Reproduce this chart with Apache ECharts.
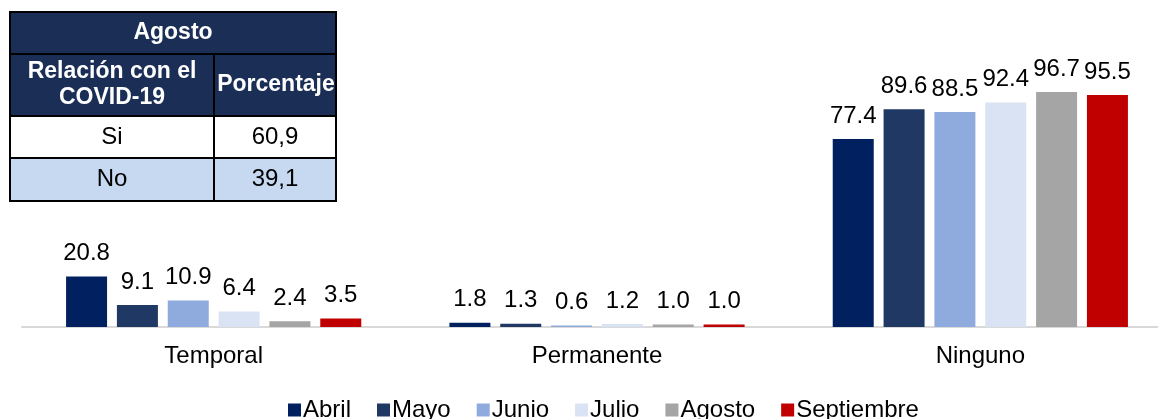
<!DOCTYPE html>
<html><head><meta charset="utf-8">
<script src="https://cdn.jsdelivr.net/npm/echarts@6/dist/echarts.min.js"></script>
<style>html,body{margin:0;padding:0;background:#fff;overflow:hidden}#c{width:1172px;height:419px}</style>
</head><body><div id="c"></div>
<script>
const categories = ['Temporal', 'Permanente', 'Ninguno'];
const seriesNames = ['Abril', 'Mayo', 'Junio', 'Julio', 'Agosto', 'Septiembre'];
const abril = [20.8, 1.8, 77.4];
const mayo = [9.1, 1.3, 89.6];
const junio = [10.9, 0.6, 88.5];
const julio = [6.4, 1.2, 92.4];
const agosto = [2.4, 1.0, 96.7];
const septiembre = [3.5, 1.0, 95.5];
const colors = ['#002060', '#203864', '#8FAADC', '#DAE3F3', '#A5A5A5', '#C00000'];
const tableTitle = 'Agosto';
const tableHeader = ['Relación con el\nCOVID-19', 'Porcentaje'];
const tableRows = [['Si', '60,9'], ['No', '39,1']];

const values = [abril, mayo, junio, julio, agosto, septiembre];
const FONT = 'Liberation Sans, Arial, sans-serif';

// table graphic
const tx = 10, tw = 326, cx = 214, ty = 12;
const rowH = [42, 62, 42, 43];
const navy = '#1B2F56';
const g = [];
let y = ty;
g.push({type:'rect', shape:{x:tx, y:y, width:tw, height:rowH[0]}, style:{fill:navy, stroke:'#000', lineWidth:2}});
g.push({type:'text', x:tx+tw/2, y:y+rowH[0]/2, style:{text:tableTitle, fill:'#fff', font:'bold 23px '+FONT, textAlign:'center', textVerticalAlign:'middle'}});
y += rowH[0];
g.push({type:'rect', shape:{x:tx, y:y, width:cx-tx, height:rowH[1]}, style:{fill:navy, stroke:'#000', lineWidth:2}});
g.push({type:'rect', shape:{x:cx, y:y, width:tx+tw-cx, height:rowH[1]}, style:{fill:navy, stroke:'#000', lineWidth:2}});
g.push({type:'text', x:(tx+cx)/2, y:y+rowH[1]/2, style:{text:tableHeader[0], fill:'#fff', font:'bold 23px '+FONT, textAlign:'center', textVerticalAlign:'middle', lineHeight:26}});
g.push({type:'text', x:(cx+tx+tw)/2 + 1, y:y+rowH[1]/2, style:{text:tableHeader[1], fill:'#fff', font:'bold 23px '+FONT, textAlign:'center', textVerticalAlign:'middle'}});
y += rowH[1];
tableRows.forEach((r, i) => {
  const h = rowH[2+i];
  const fill = i === 0 ? '#FFFFFF' : '#C6D9F1';
  g.push({type:'rect', shape:{x:tx, y:y, width:cx-tx, height:h}, style:{fill:fill, stroke:'#000', lineWidth:2}});
  g.push({type:'rect', shape:{x:cx, y:y, width:tx+tw-cx, height:h}, style:{fill:fill, stroke:'#000', lineWidth:2}});
  g.push({type:'text', x:(tx+cx)/2, y:y+h/2, style:{text:r[0], fill:'#000', font:'24px '+FONT, textAlign:'center', textVerticalAlign:'middle'}});
  g.push({type:'text', x:(cx+tx+tw)/2, y:y+h/2, style:{text:r[1], fill:'#000', font:'24px '+FONT, textAlign:'center', textVerticalAlign:'middle'}});
  y += h;
});

const chart = echarts.init(document.getElementById('c'));
chart.setOption({
  animation: false,
  textStyle: {fontFamily: FONT},
  color: colors,
  grid: {left: 22, right: 0, top: 84, bottom: 92},
  legend: {
    top: 393, left: 283, itemWidth: 13, itemHeight: 13, itemGap: 26,
    icon: 'rect',
    textStyle: {fontSize: 24, color: '#000', fontFamily: FONT, padding:[0,0,0,-3]},
    data: seriesNames
  },
  xAxis: {
    type: 'category', data: categories,
    axisLine: {lineStyle: {color: '#D9D9D9', width: 2}},
    axisTick: {show: false},
    axisLabel: {fontSize: 24, color: '#000', margin: 17, fontFamily: FONT}
  },
  yAxis: {type: 'value', min: 0, max: 100, show: false, splitLine: {show: false}},
  series: seriesNames.map((n, i) => ({
    name: n, type: 'bar', data: values[i], barWidth: 41, barGap: '24%',
    label: {show: true, position: 'top', distance: 11, fontSize: 24, color: '#000', fontFamily: FONT,
      formatter: p => p.value.toFixed(1)}
  })),
  graphic: g
});
</script></body></html>
